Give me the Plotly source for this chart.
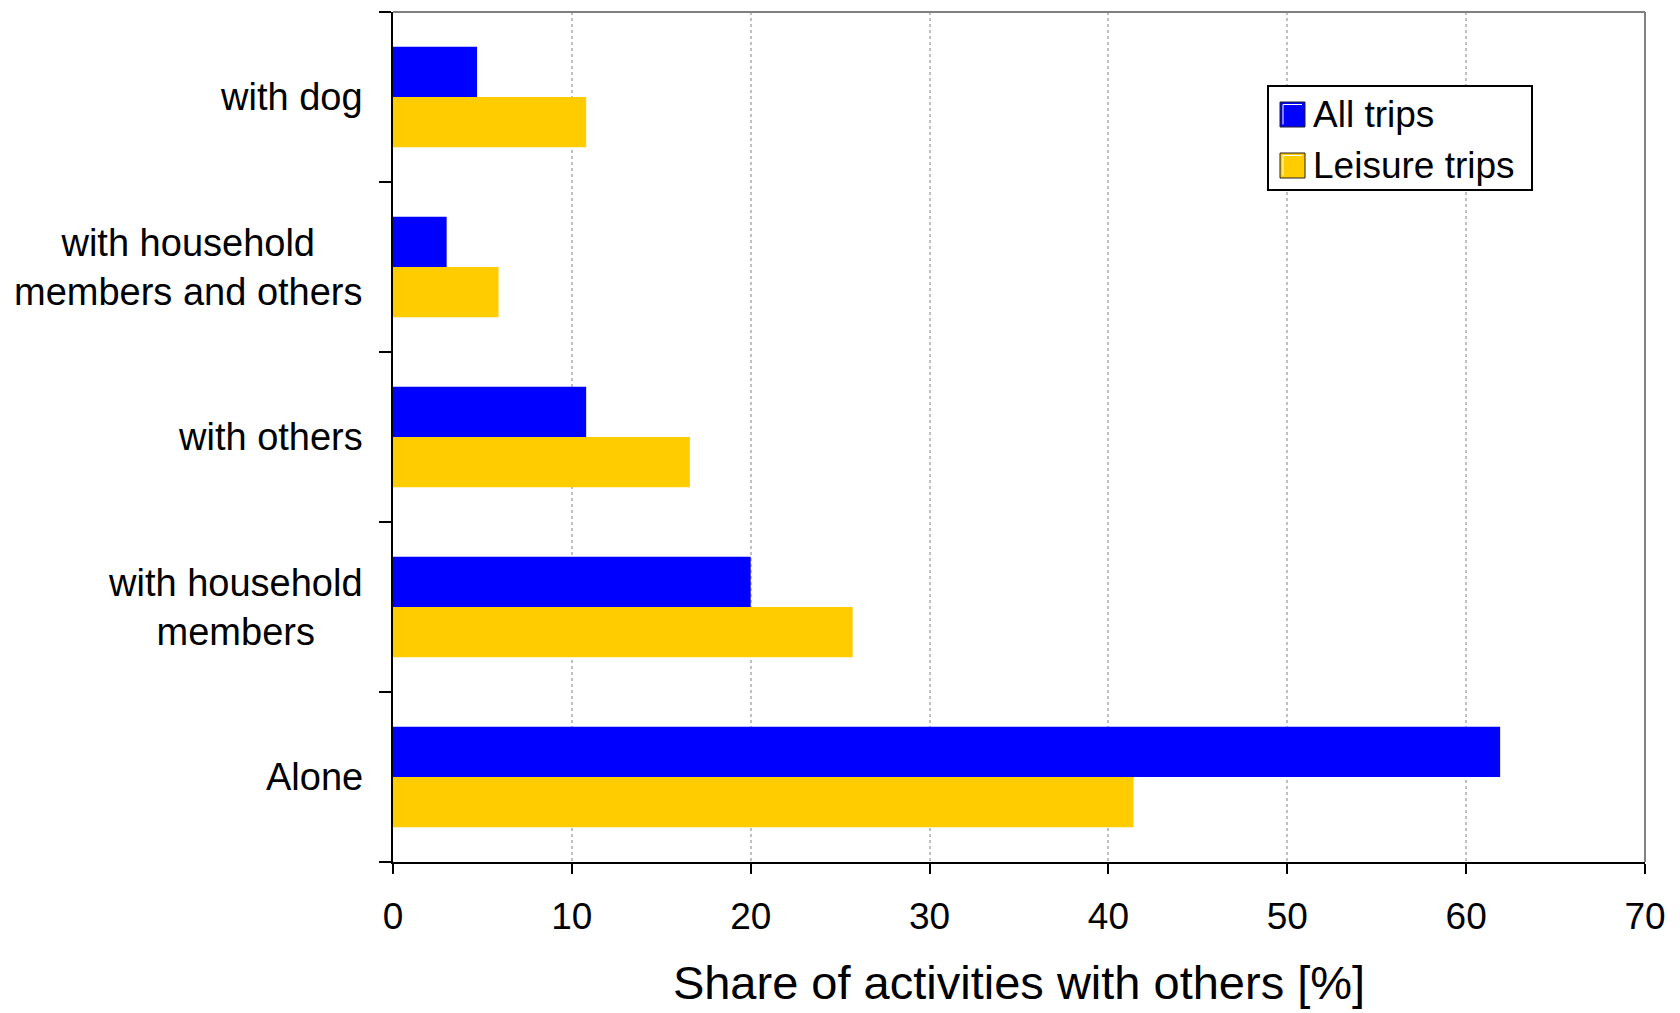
import plotly.graph_objects as go

# Companionship categories, listed bottom to top
categories = [
    "Alone",
    "with household members",
    "with others",
    "with household members and others",
    "with dog",
]
category_labels = [
    "Alone",
    "with household<br>members",
    "with others",
    "with household<br>members and others",
    "with dog",
]
all_trips = [61.9, 20.0, 10.8, 3.0, 4.7]
leisure_trips = [41.4, 25.7, 16.6, 5.9, 10.8]

series_names = ["All trips", "Leisure trips"]
series_colors = ["#0000FF", "#FFCC00"]

x_ticks = [0, 10, 20, 30, 40, 50, 60, 70]
x_title = "Share of activities with others [%]"

FONT = "Liberation Sans, Arial, sans-serif"

# Plot-area geometry in pixels, used to place the legend box
PL, PR, PT, PB = 393, 1645, 12, 862
PW, PH = PR - PL, PB - PT


def px_x(x):
    return (x - PL) / PW


def px_y(y):
    return (PB - y) / PH


fig = go.Figure()
# Leisure trips first so that "All trips" sits on top within each group
fig.add_trace(go.Bar(
    y=categories, x=leisure_trips, orientation="h", name=series_names[1],
    marker=dict(color=series_colors[1], line=dict(width=0)),
))
fig.add_trace(go.Bar(
    y=categories, x=all_trips, orientation="h", name=series_names[0],
    marker=dict(color=series_colors[0], line=dict(width=0)),
))

fig.update_layout(
    width=1680, height=1013,
    margin=dict(l=PL, r=1680 - PR, t=PT, b=1013 - PB),
    paper_bgcolor="white", plot_bgcolor="white",
    barmode="group", bargap=0.41, bargroupgap=0,
    showlegend=False,
    font=dict(family=FONT, size=37, color="black"),
)

fig.update_xaxes(
    range=[0, 70], tickvals=x_ticks, ticktext=[str(v) for v in x_ticks],
    showgrid=True, gridcolor="#c0c0c0", gridwidth=1.5, griddash="dot",
    showline=True, linecolor="black", linewidth=2,
    ticks="outside", ticklen=10, tickwidth=2, tickcolor="black",
    ticklabelstandoff=11,
    tickfont=dict(size=37), zeroline=False,
    title=dict(text=x_title, font=dict(size=47), standoff=30),
)
fig.update_yaxes(
    categoryorder="array", categoryarray=categories, range=[-0.5, 4.5],
    showgrid=False, showticklabels=False,
    showline=True, linecolor="black", linewidth=2,
    ticks="outside", tickson="boundaries", ticklen=12, tickwidth=2,
    tickcolor="black", zeroline=False,
)

# Grey frame on the top and right sides of the plot area
fig.add_shape(type="line", xref="paper", yref="paper", x0=0, x1=1, y0=1, y1=1,
              line=dict(color="#808080", width=2))
fig.add_shape(type="line", xref="paper", yref="paper", x0=1, x1=1, y0=0, y1=1,
              line=dict(color="#808080", width=2))

# Category labels, centred line by line
for cat, label in zip(categories, category_labels):
    fig.add_annotation(
        x=0, xref="paper", y=cat, yref="y", text=label, showarrow=False,
        xanchor="right", yanchor="middle", align="center", xshift=-28,
        font=dict(size=38, color="black", family=FONT),
    )

# Legend box with bevelled square swatches
fig.add_shape(type="rect", xref="paper", yref="paper",
              x0=px_x(1268), x1=px_x(1532), y0=px_y(190), y1=px_y(86),
              line=dict(color="black", width=2), fillcolor="white", layer="above")
legend_rows = [114.5, 165.5]
for name, color, yc in zip(series_names, series_colors, legend_rows):
    fig.add_shape(type="rect", xref="paper", yref="paper",
                  x0=px_x(1280), x1=px_x(1305),
                  y0=px_y(yc + 12.5), y1=px_y(yc - 12.5),
                  line=dict(color="#202020", width=1), fillcolor=color, layer="above")
    fig.add_shape(type="path", xref="paper", yref="paper",
                  path=(f"M {px_x(1283)} {px_y(yc + 10)} L {px_x(1283)} {px_y(yc - 10)} "
                        f"L {px_x(1302)} {px_y(yc - 10)}"),
                  line=dict(color="white", width=1), layer="above")
    fig.add_annotation(
        x=px_x(1311), xref="paper", y=px_y(yc), yref="paper",
        text=name, showarrow=False, xanchor="left", yanchor="middle",
        font=dict(size=37, color="black", family=FONT),
    )

fig.write_html("out.html")
